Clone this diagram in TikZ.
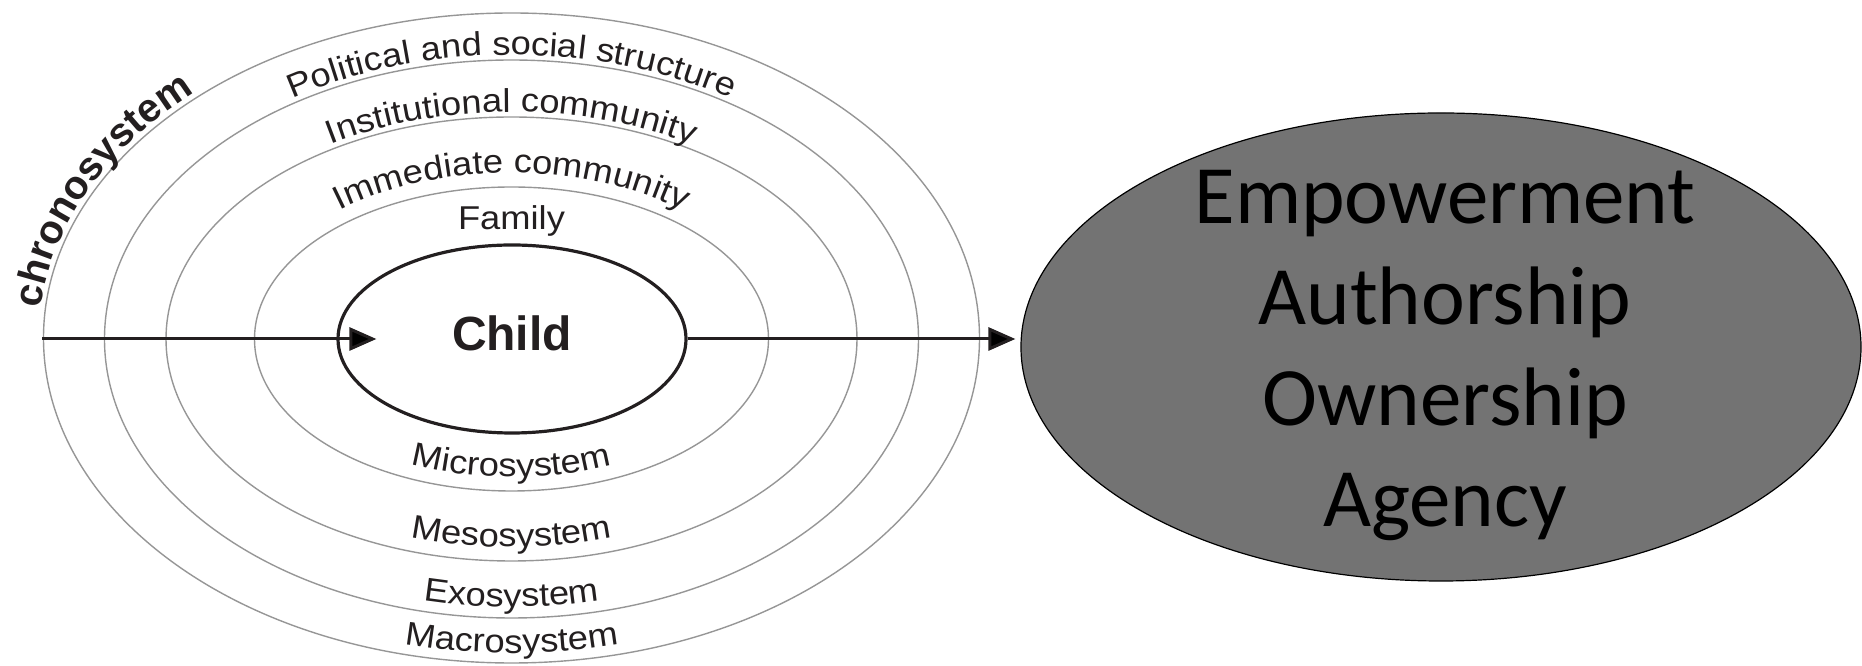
\documentclass[tikz,border=0pt]{standalone}
\usepackage{fontspec}
\setmainfont{Liberation Sans}
\newfontfamily\ringfont[FakeStretch=1.1]{Liberation Sans}
\newfontfamily\goalfont{Carlito}
\usetikzlibrary{shapes.geometric,arrows.meta,decorations.text}
\definecolor{ringcol}{RGB}{150,150,150}
\definecolor{inkcol}{RGB}{35,31,32}
\definecolor{goalfill}{RGB}{115,115,115}
\newcommand\ringtext{\ringfont\fontsize{16.5bp}{18bp}\selectfont}
\newcommand\chronotext{\bfseries\fontsize{20bp}{22bp}\selectfont}
\tikzset{
  ring/.style={draw=ringcol, line width=0.7bp},
  ringlabel/.style={decorate, decoration={text along path, text align=center,
    text color=inkcol, text={|\ringtext|#1}}},
  chronolabel/.style={decorate, decoration={text along path, text align=center,
    text color=inkcol, text={|\chronotext|#1}}},
  famlabel/.style={anchor=base, inner sep=0pt, text=inkcol, font=\ringtext},
  childring/.style={ellipse, draw=inkcol, line width=1.6bp, inner sep=0pt,
    minimum width=174bp, minimum height=94bp, text=inkcol,
    font=\bfseries\fontsize{24bp}{28bp}\selectfont, text height=1.43em, text depth=0.23em},
  goalring/.style={ellipse, draw=black, fill=goalfill, line width=0.6bp, inner sep=0pt,
    minimum width=420bp, minimum height=234bp},
  goaltext/.style={align=center, inner sep=0pt, text=black,
    font=\goalfont\fontsize{41.5bp}{50.5bp}\selectfont},
  flow/.style={->, draw=inkcol, line width=1.5bp}
}
\begin{document}
\begin{tikzpicture}[x=0.5bp,y=0.5bp,>={Triangle[length=13.5bp,width=11.5bp]}]
  \useasboundingbox (0,0) rectangle (1862,666);
%%
  % Rings
  \draw[ring] (511.5,328) ellipse [x radius=468, y radius=325];
  \draw[ring] (511.5,327) ellipse [x radius=407, y radius=279];
  \draw[ring] (511.5,327) ellipse [x radius=345.5, y radius=222];
  \draw[ring] (511.5,327) ellipse [x radius=257, y radius=152];
  % Labels: upper half
  \path[ringlabel={Political and social structure}] (99.5,327) arc [start angle=180, end angle=0, x radius=412, y radius=284];
  \path[ringlabel={Institutional community}] (161,327) arc [start angle=180, end angle=0, x radius=350.5, y radius=227];
  \path[ringlabel={Immediate community}] (240.5,327) arc [start angle=180, end angle=0, x radius=271, y radius=166];
  \node[famlabel] (family) at (511.5,436) {Family};
  % Labels: lower half
  \path[ringlabel={Microsystem}] (268.5,327) arc [start angle=180, end angle=360, x radius=243, y radius=138];
  \path[ringlabel={Mesosystem}] (180,327) arc [start angle=180, end angle=360, x radius=331.5, y radius=208];
  \path[ringlabel={Exosystem}] (115.5,327) arc [start angle=180, end angle=360, x radius=396, y radius=268];
  \path[ringlabel={Macrosystem}] (54.5,327) arc [start angle=180, end angle=360, x radius=457, y radius=314];
  \path[chronolabel={chronosystem}] (38.5,328) arc [start angle=180, end angle=128, x radius=473, y radius=330];
  % Node: child
  \node[childring] (child) at (512,327) {Child};
  % Node: goals
  \node[goalring] (goals) at (1441,319) {};
  \node[goaltext] (goaltext) at (1445,310) {Empowerment\\Authorship\\Ownership\\Agency};
  % Edge: entry -> child
  \coordinate (entry) at (42,327);
  \draw[flow] (entry) -- ([xshift=20bp]child.west);
  % Edge: child -> goals
  \draw[flow, shorten >=2.5bp] (child.east) -- (child.east -| goals.west);
%
\end{tikzpicture}
\end{document}
